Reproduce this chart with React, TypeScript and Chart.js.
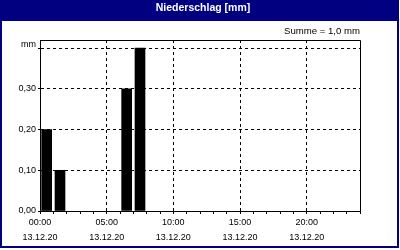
import React, { useEffect, useRef } from "react";
import { Chart, registerables } from "chart.js";

Chart.register(...registerables);

// ---- data ----
const HOURS = [0, 1, 6, 7]; // start hour of each hourly interval
const PRECIP_MM = [0.2, 0.1, 0.3, 0.4];
const X_MIN = 0;
const X_MAX = 24;
const X_TICK_HOURS = Array.from({ length: 25 }, (_, i) => i);
const X_LABEL_HOURS = [0, 5, 10, 15, 20];
const X_TIME_LABELS = ["00:00", "05:00", "10:00", "15:00", "20:00"];
const DATE_LABEL = "13.12.20";
const Y_TICKS = [0, 0.1, 0.2, 0.3, 0.4];
const Y_TICK_LABELS = ["0,00", "0,10", "0,20", "0,30", "mm"];
const Y_MAX = 0.42;
const TITLE = "Niederschlag [mm]";
const SUBTITLE = "Summe = 1,0 mm";

const NAVY = "#000080";
const FONT = "'Liberation Sans', Arial, sans-serif";

const framePlugin = {
  id: "frame",
  beforeDraw(chart: any) {
    const { ctx } = chart;
    const tb = chart.titleBlock;
    const barBottom = tb ? tb.bottom : 21;
    ctx.save();
    ctx.fillStyle = NAVY;
    ctx.fillRect(0, 0, 399, 248);
    ctx.fillStyle = "#ffffff";
    ctx.fillRect(2, barBottom, 395, 246 - barBottom);
    ctx.restore();
  },
  afterDraw(chart: any) {
    const { ctx, chartArea } = chart;
    const { left, top, right, bottom } = chartArea;
    ctx.save();
    ctx.strokeStyle = "#000";
    ctx.lineWidth = 1;
    ctx.setLineDash([]);
    ctx.beginPath();
    ctx.moveTo(left, Math.round(top) + 0.5);
    ctx.lineTo(Math.round(right) + 0.5, Math.round(top) + 0.5);
    ctx.lineTo(Math.round(right) + 0.5, bottom);
    ctx.stroke();
    ctx.restore();
  },
};

export default function App() {
  const ref = useRef<HTMLCanvasElement>(null);

  useEffect(() => {
    if (!ref.current) return;
    const chart = new Chart(ref.current, {
      type: "bar",
      data: {
        datasets: [
          {
            data: HOURS.map((h, i) => ({ x: h + 0.5, y: PRECIP_MM[i] })),
            backgroundColor: "#000",
            borderWidth: 0,
            barThickness: 10,
          },
        ],
      },
      options: {
        responsive: false,
        devicePixelRatio: 1,
        animation: false,
        layout: { padding: { left: 6, right: 0, top: 0, bottom: 0 } },
        plugins: {
          legend: { display: false },
          tooltip: { enabled: false },
          title: {
            display: true,
            text: TITLE,
            color: "#ffffff",
            font: { family: FONT, size: 10.5, weight: "bold", lineHeight: "13px" },
            padding: { top: 2, bottom: 6 },
          },
          subtitle: {
            display: true,
            text: SUBTITLE,
            align: "end",
            fullSize: false,
            color: "#000",
            font: { family: FONT, size: 9.6, lineHeight: "12px" },
            padding: { top: 4, bottom: 3 },
          },
        },
        scales: {
          x: {
            type: "linear",
            position: "bottom",
            offset: false,
            min: X_MIN,
            max: X_MAX,
            afterBuildTicks: (s: any) => {
              s.ticks = X_TICK_HOURS.map((v) => ({ value: v }));
            },
            afterFit: (s: any) => {
              s.height = 39;
            },
            ticks: {
              autoSkip: false,
              maxRotation: 0,
              minRotation: 0,
              padding: 1.5,
              color: "#000",
              font: { family: FONT, size: 9, lineHeight: "15px" },
              callback: (value: any) => {
                const i = X_LABEL_HOURS.indexOf(Number(value));
                return i >= 0 ? [X_TIME_LABELS[i], DATE_LABEL] : "";
              },
            },
            grid: {
              offset: false,
              color: (c: any) =>
                c.tick && X_LABEL_HOURS.includes(c.tick.value) && c.tick.value !== X_MIN
                  ? "#000"
                  : "rgba(0,0,0,0)",
              tickColor: "#000",
              tickLength: 3,
              lineWidth: 1,
            },
            border: { display: true, color: "#000", width: 1, dash: [3, 3] },
          },
          y: {
            type: "linear",
            position: "left",
            min: 0,
            max: Y_MAX,
            afterBuildTicks: (s: any) => {
              s.ticks = Y_TICKS.map((v) => ({ value: v }));
            },
            afterFit: (s: any) => {
              s.width = 34;
            },
            ticks: {
              padding: 2,
              color: "#000",
              font: { family: FONT, size: 9, lineHeight: "8px" },
              callback: (value: any) => {
                const i = Y_TICKS.indexOf(Number(value));
                const label = i >= 0 ? Y_TICK_LABELS[i] : "";
                return label === "mm" ? [label, ""] : label;
              },
            },
            grid: {
              color: "#000",
              tickColor: "#000",
              tickLength: 2,
              lineWidth: 1,
            },
            border: { display: true, color: "#000", width: 1, dash: [3, 3] },
          },
          yRight: {
            type: "linear",
            position: "right",
            display: true,
            afterFit: (s: any) => {
              s.width = 40;
            },
            ticks: { display: false },
            grid: { display: false, drawTicks: false },
            border: { display: false },
          },
        },
      } as any,
      plugins: [framePlugin],
    });
    return () => chart.destroy();
  }, []);

  return (
    <div style={{ position: "fixed", left: 0, top: 0, width: 400, height: 250, background: "#fff" }}>
      <canvas ref={ref} width={400} height={250} style={{ display: "block", width: 400, height: 250 }} />
    </div>
  );
}
